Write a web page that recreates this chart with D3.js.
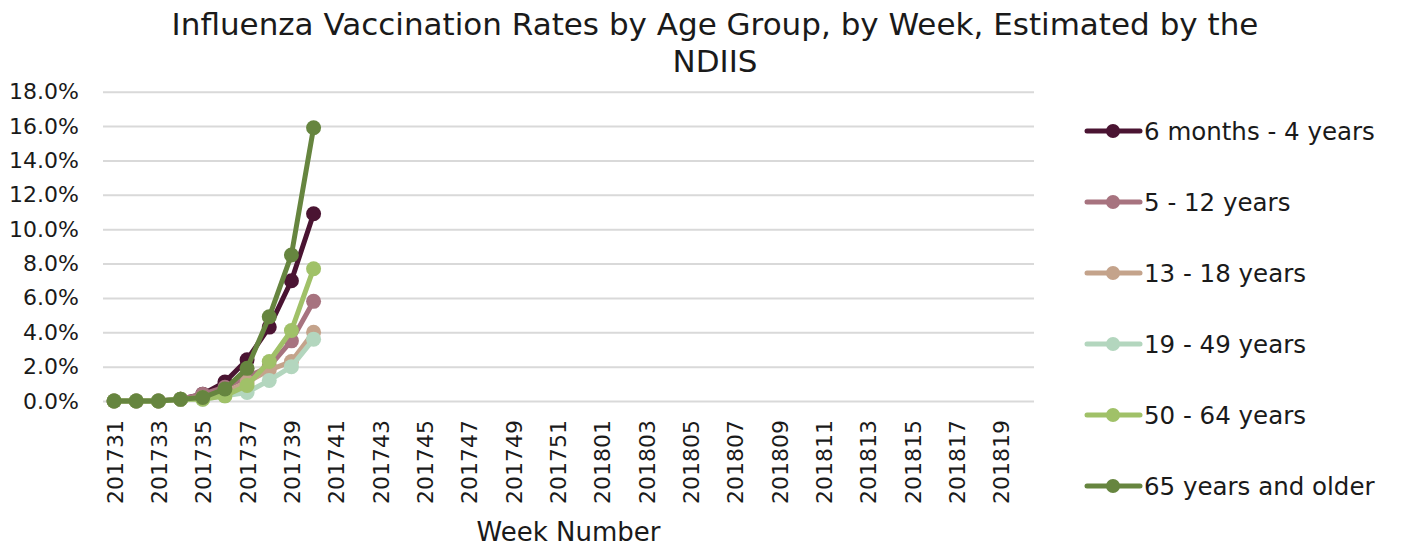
<!DOCTYPE html>
<html>
<head>
<meta charset="utf-8">
<script src="https://cdn.jsdelivr.net/npm/d3@7"></script>
<style>
  html, body { margin: 0; padding: 0; background: #fff; }
  svg { display: block; font-family: "DejaVu Sans", sans-serif; }
</style>
</head>
<body>
<svg id="chart" width="1401" height="546"></svg>
<script>
// ---- data ----
const weeks = [];
for (let w = 31; w <= 52; w++) weeks.push("2017" + w);
for (let w = 1; w <= 20; w++) weeks.push("2018" + String(w).padStart(2, "0"));

const seriesNames = ["6 months - 4 years", "5 - 12 years", "13 - 18 years", "19 - 49 years", "50 - 64 years", "65 years and older"];
const seriesColors = ["#4A1432", "#A7737F", "#C4A38B", "#B3D6BE", "#A0C168", "#66853F"];

// values in percent, weeks 201731..201740 (remaining weeks have no data)
const infants   = [0, 0, 0, 0.1, 0.4, 1.1, 2.4, 4.3, 7.0, 10.9];
const children  = [0, 0, 0, 0.1, 0.4, 0.8, 1.4, 2.0, 3.5, 5.8];
const teens     = [0, 0, 0, 0.1, 0.2, 0.5, 1.1, 1.8, 2.3, 4.0];
const adults    = [0, 0, 0, 0.1, 0.1, 0.3, 0.5, 1.2, 2.0, 3.6];
const olderAdults = [0, 0, 0, 0.1, 0.1, 0.3, 0.9, 2.3, 4.1, 7.7];
const seniors   = [0, 0, 0, 0.1, 0.2, 0.7, 1.9, 4.9, 8.5, 15.9];
const seriesValues = [infants, children, teens, adults, olderAdults, seniors];

const yTicks = [0, 2, 4, 6, 8, 10, 12, 14, 16, 18];
const xTickLabels = weeks.filter((d, i) => i % 2 === 0);

// ---- layout ----
const svg = d3.select("#chart");
const plotLeft = 103, plotRight = 1034, plotTop = 91.7, plotBottom = 401;

const x = d3.scalePoint().domain(weeks).range([plotLeft, plotRight]).padding(0.5);
const y = d3.scaleLinear().domain([0, 18]).range([plotBottom, plotTop]);

// title
const title = svg.append("text")
  .attr("text-anchor", "middle")
  .attr("font-size", 31).attr("fill", "#1a1a1a");
title.append("tspan").attr("x", 715).attr("y", 35).text("Influenza Vaccination Rates by Age Group, by Week, Estimated by the");
title.append("tspan").attr("x", 715).attr("y", 72).text("NDIIS");

// gridlines + y axis labels
const yAxis = d3.axisLeft(y).tickValues(yTicks).tickSize(-(plotRight - plotLeft)).tickPadding(24)
  .tickFormat(d => d.toFixed(1) + "%");
const gy = svg.append("g").attr("transform", `translate(${plotLeft},0)`).call(yAxis);
gy.select(".domain").remove();
gy.selectAll(".tick line").attr("stroke", "#D9D9D9").attr("stroke-width", 2);
gy.selectAll(".tick text").attr("font-size", 22).attr("fill", "#1a1a1a")
  .attr("font-family", "DejaVu Sans, sans-serif").attr("x", -24);

// x axis labels
const xAxis = d3.axisBottom(x).tickValues(xTickLabels).tickSize(0).tickPadding(0);
const gx = svg.append("g").attr("transform", `translate(0,${plotBottom})`).call(xAxis);
gx.select(".domain").remove();
gx.selectAll(".tick text")
  .attr("font-size", 22).attr("fill", "#1a1a1a")
  .attr("font-family", "DejaVu Sans, sans-serif")
  .attr("text-anchor", "end")
  .attr("transform", "rotate(-90)")
  .attr("x", -19).attr("y", 0).attr("dy", "0.36em");

// axis title
svg.append("text").attr("x", (plotLeft + plotRight) / 2).attr("y", 541)
  .attr("text-anchor", "middle").attr("font-size", 26).attr("fill", "#1a1a1a")
  .text("Week Number");

// series
const line = d3.line()
  .defined(d => d.v !== null)
  .x(d => x(d.w)).y(d => y(d.v));

seriesValues.forEach((vals, si) => {
  const pts = vals.map((v, i) => ({ w: weeks[i], v }));
  const g = svg.append("g");
  g.append("path").datum(pts).attr("d", line)
    .attr("fill", "none").attr("stroke", seriesColors[si])
    .attr("stroke-width", 5).attr("stroke-linejoin", "round").attr("stroke-linecap", "round");
  g.selectAll("circle").data(pts).join("circle")
    .attr("cx", d => x(d.w)).attr("cy", d => y(d.v)).attr("r", 7.5)
    .attr("fill", seriesColors[si]);
});

// legend
const legend = svg.append("g");
seriesNames.forEach((name, i) => {
  const ly = 131 + i * 71;
  const g = legend.append("g").attr("transform", `translate(0,${ly})`);
  g.append("line").attr("x1", 1087).attr("x2", 1140).attr("y1", 0).attr("y2", 0)
    .attr("stroke", seriesColors[i]).attr("stroke-width", 5).attr("stroke-linecap", "round");
  g.append("circle").attr("cx", 1113).attr("cy", 0).attr("r", 7).attr("fill", seriesColors[i]);
  g.append("text").attr("x", 1144).attr("y", 0).attr("dy", "0.36em")
    .attr("font-size", 24.5).attr("fill", "#1a1a1a").text(name);
});
</script>
</body>
</html>
